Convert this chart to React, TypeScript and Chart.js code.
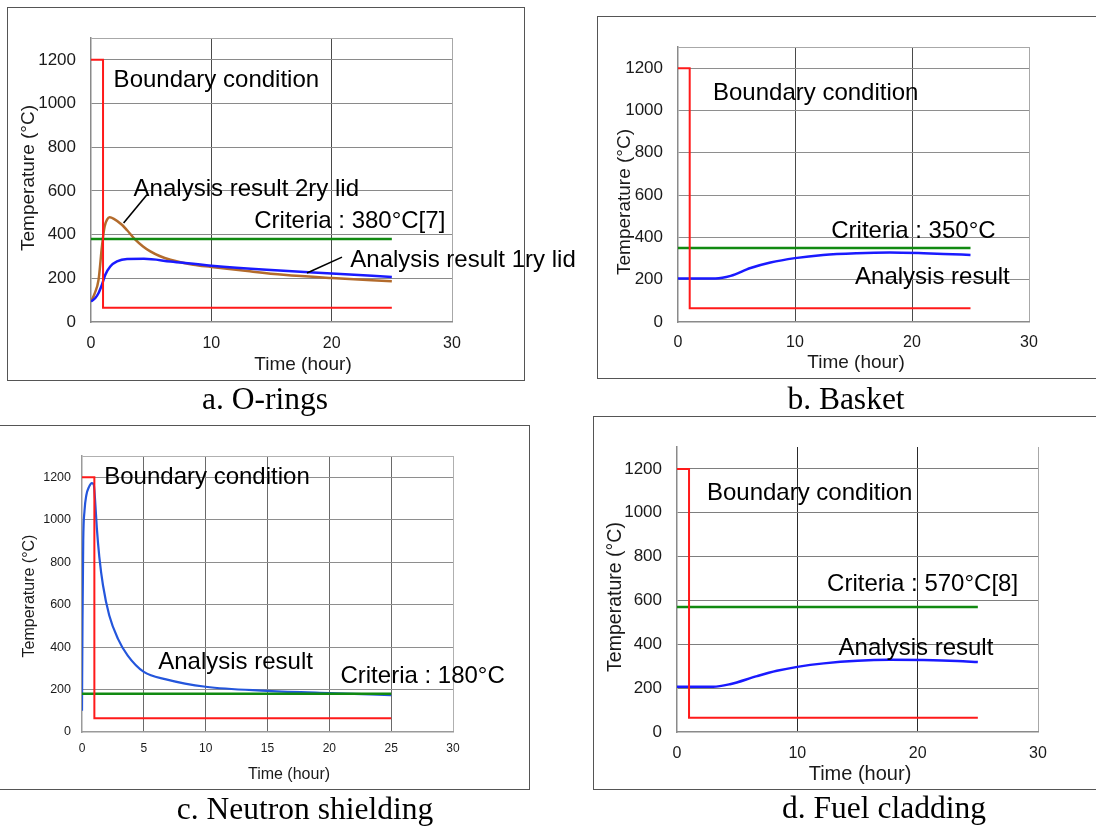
import React, { useEffect, useRef } from "react";
import { Chart, registerables } from "chart.js";

Chart.register(...registerables);

// ---------------- data ----------------
const boundaryTime = [0, 1, 1, 25];
const boundaryTemp = [1200, 1200, 65, 65];
const criteriaTime = [0, 25];

const oringCriteriaTemp = [380, 380];
const oring2ryTime = [0, 0.3, 0.63, 0.91, 1.13, 1.35, 1.55, 1.9, 2.57, 3.0, 3.68, 4.3, 4.93, 5.7, 6.6, 8.5, 10, 13, 16, 20, 25];
const oring2ryTemp = [94, 130, 194, 346, 437, 470, 479, 472, 445, 420, 377, 347, 323, 302, 285, 262, 252, 233, 216, 201, 186];
const oring1ryTime = [0, 0.36, 0.63, 0.91, 1.19, 1.6, 2.16, 3.0, 4.4, 6.6, 10, 14.6, 20, 25];
const oring1ryTemp = [94, 110, 133, 171, 216, 254, 277, 288, 289, 277, 258, 239, 222, 206];

const basketCriteriaTemp = [350, 350];
const basketTime = [0, 3.2, 4.5, 6.2, 7.9, 10, 12.4, 15.3, 18.1, 21, 22.7, 25];
const basketTemp = [206, 206, 218, 255, 281, 302, 317, 325, 328, 325, 322, 317];

const shieldCriteriaTemp = [180, 180];
const shieldTime = [0, 0.04, 0.1, 0.2, 0.35, 0.55, 0.8, 0.95, 1.05, 1.2, 1.4, 1.7, 2.2, 2.9, 3.7, 5, 6.8, 10, 15, 20, 25];
const shieldTemp = [100, 520, 900, 1040, 1115, 1152, 1172, 1165, 1100, 960, 825, 690, 550, 440, 360, 283, 248, 213, 194, 183, 174];

const claddingCriteriaTemp = [570, 570];
const claddingTime = [0, 3.0, 4.4, 6.65, 8.3, 10, 12.2, 15, 17.7, 20.5, 23.3, 25];
const claddingTemp = [206, 206, 218, 255, 279, 297, 313, 325, 329, 328, 324, 319];

const yTickValues = [0, 200, 400, 600, 800, 1000, 1200];
const yMax = 1300;
const xMax = 30;
const xTicksWide = [0, 10, 20, 30];
const xTicksFine = [0, 5, 10, 15, 20, 25, 30];

// ---------------- styling ----------------
const SANS = '"Liberation Sans", Arial, sans-serif';
const RED = "#ff1a1a";
const GREEN = "#118a11";
const BLUE = "#1a1aff";
const BLUE_C = "#2456dc";
const BROWN = "#b36b2c";

type Series = { x: number[]; y: number[]; color: string; width: number; smooth: boolean };
type Note = { text: string; x: number; y: number };
type Leader = { x1: number; y1: number; x2: number; y2: number };
type Title = { text: string; x: number; y: number; size: number };
type Panel = {
  key: string;
  box: { left: number; top: number; width: number; height: number };
  area: { l: number; t: number; r: number; b: number };
  series: Series[];
  xTicks: number[];
  yTickFont: number;
  xTickFont: number;
  yTickPad: number;
  xTickPad: number;
  hGrid: string;
  vGrid: string;
  axisColor: string;
  edgeColor: string;
  showTop: boolean;
  notes: Note[];
  leaders: Leader[];
  xTitle: Title;
  yTitle: Title;
};

const panels: Panel[] = [
  {
    key: "a",
    box: { left: 0, top: 0, width: 595, height: 395 },
    area: { l: 91, t: 38, r: 452, b: 322 },
    series: [
      { x: boundaryTime, y: boundaryTemp, color: RED, width: 2, smooth: false },
      { x: criteriaTime, y: oringCriteriaTemp, color: GREEN, width: 2.5, smooth: false },
      { x: oring1ryTime, y: oring1ryTemp, color: BLUE, width: 2.5, smooth: true },
      { x: oring2ryTime, y: oring2ryTemp, color: BROWN, width: 2.5, smooth: true },
    ],
    xTicks: xTicksWide,
    yTickFont: 17,
    xTickFont: 16,
    yTickPad: 15,
    xTickPad: 12,
    hGrid: "#8a8a8a",
    vGrid: "#4a4a4a",
    axisColor: "#8a8a8a",
    edgeColor: "#a8a8a8",
    showTop: true,
    notes: [
      { text: "Boundary condition", x: 1.88, y: 1075 },
      { text: "Analysis result 2ry lid", x: 3.54, y: 578 },
      { text: "Criteria : 380°C[7]", x: 13.57, y: 430 },
      { text: "Analysis result 1ry lid", x: 21.55, y: 253 },
    ],
    leaders: [
      { x1: 4.65, y1: 583, x2: 2.71, y2: 453 },
      { x1: 20.86, y1: 297, x2: 17.95, y2: 224 },
    ],
    xTitle: { text: "Time (hour)", x: 303, y: 365, size: 19 },
    yTitle: { text: "Temperature (°C)", x: 29, y: 178, size: 19 },
  },
  {
    key: "b",
    box: { left: 596, top: 0, width: 500, height: 395 },
    area: { l: 82, t: 47, r: 433, b: 322 },
    series: [
      { x: boundaryTime, y: boundaryTemp, color: RED, width: 2, smooth: false },
      { x: criteriaTime, y: basketCriteriaTemp, color: GREEN, width: 2.5, smooth: false },
      { x: basketTime, y: basketTemp, color: BLUE, width: 2.5, smooth: true },
    ],
    xTicks: xTicksWide,
    yTickFont: 17,
    xTickFont: 16,
    yTickPad: 15,
    xTickPad: 11,
    hGrid: "#8e8e8e",
    vGrid: "#4a4a4a",
    axisColor: "#8a8a8a",
    edgeColor: "#a8a8a8",
    showTop: true,
    notes: [
      { text: "Boundary condition", x: 2.99, y: 1048 },
      { text: "Criteria : 350°C", x: 13.1, y: 396 },
      { text: "Analysis result", x: 15.13, y: 179 },
    ],
    leaders: [],
    xTitle: { text: "Time (hour)", x: 260, y: 363, size: 19 },
    yTitle: { text: "Temperature (°C)", x: 29, y: 202, size: 19 },
  },
  {
    key: "c",
    box: { left: 0, top: 420, width: 595, height: 400 },
    area: { l: 82, t: 36, r: 453, b: 312 },
    series: [
      { x: boundaryTime, y: boundaryTemp, color: RED, width: 2, smooth: false },
      { x: criteriaTime, y: shieldCriteriaTemp, color: GREEN, width: 2.5, smooth: false },
      { x: shieldTime, y: shieldTemp, color: BLUE_C, width: 2.2, smooth: true },
    ],
    xTicks: xTicksFine,
    yTickFont: 12.5,
    xTickFont: 12,
    yTickPad: 11,
    xTickPad: 9,
    hGrid: "#8e8e8e",
    vGrid: "#6a6a6a",
    axisColor: "#9a9a9a",
    edgeColor: "#b0b0b0",
    showTop: true,
    notes: [
      { text: "Boundary condition", x: 1.8, y: 1168 },
      { text: "Analysis result", x: 6.16, y: 297 },
      { text: "Criteria : 180°C", x: 20.9, y: 230 },
    ],
    leaders: [],
    xTitle: { text: "Time (hour)", x: 289, y: 355, size: 16 },
    yTitle: { text: "Temperature (°C)", x: 30, y: 176, size: 16 },
  },
  {
    key: "d",
    box: { left: 596, top: 412, width: 500, height: 400 },
    area: { l: 81, t: 35, r: 442, b: 320 },
    series: [
      { x: boundaryTime, y: boundaryTemp, color: RED, width: 2, smooth: false },
      { x: criteriaTime, y: claddingCriteriaTemp, color: GREEN, width: 2.5, smooth: false },
      { x: claddingTime, y: claddingTemp, color: BLUE, width: 2.5, smooth: true },
    ],
    xTicks: xTicksWide,
    yTickFont: 17,
    xTickFont: 16,
    yTickPad: 15,
    xTickPad: 12,
    hGrid: "#7e7e7e",
    vGrid: "#2a2a2a",
    axisColor: "#8a8a8a",
    edgeColor: "#a8a8a8",
    showTop: false,
    notes: [
      { text: "Boundary condition", x: 2.49, y: 1059 },
      { text: "Criteria : 570°C[8]", x: 12.47, y: 643 },
      { text: "Analysis result", x: 13.43, y: 351 },
    ],
    leaders: [],
    xTitle: { text: "Time (hour)", x: 264, y: 362, size: 20 },
    yTitle: { text: "Temperature (°C)", x: 20, y: 185, size: 19.5 },
  },
];

const frames = [
  { left: 7, top: 7, width: 518, height: 374 },
  { left: 597, top: 16, width: 520, height: 363 },
  { left: -2, top: 425, width: 532, height: 365 },
  { left: 593, top: 416, width: 520, height: 374 },
];

const captions = [
  { text: "a. O-rings", cx: 265, top: 383 },
  { text: "b. Basket", cx: 846, top: 383 },
  { text: "c. Neutron shielding", cx: 305, top: 793 },
  { text: "d. Fuel cladding", cx: 884, top: 792 },
];

const TRANSPARENT = "rgba(0,0,0,0)";

function PanelChart({ p }: { p: Panel }) {
  const ref = useRef<HTMLCanvasElement | null>(null);
  useEffect(() => {
    if (!ref.current) return;
    const W = p.box.width;
    const H = p.box.height;
    const notesPlugin = {
      id: "notes" + p.key,
      afterDraw(chart: any) {
        const ctx = chart.ctx as CanvasRenderingContext2D;
        const xs = chart.scales.x;
        const ys = chart.scales.y;
        ctx.save();
        ctx.fillStyle = "#000";
        ctx.font = `24px ${SANS}`;
        ctx.textAlign = "left";
        ctx.textBaseline = "alphabetic";
        p.notes.forEach((n) => {
          ctx.fillText(n.text, xs.getPixelForValue(n.x), ys.getPixelForValue(n.y));
        });
        ctx.strokeStyle = "#000";
        ctx.lineWidth = 1.6;
        p.leaders.forEach((l) => {
          ctx.beginPath();
          ctx.moveTo(xs.getPixelForValue(l.x1), ys.getPixelForValue(l.y1));
          ctx.lineTo(xs.getPixelForValue(l.x2), ys.getPixelForValue(l.y2));
          ctx.stroke();
        });
        ctx.fillStyle = "#1a1a1a";
        ctx.textAlign = "center";
        ctx.textBaseline = "middle";
        ctx.font = `${p.xTitle.size}px ${SANS}`;
        ctx.fillText(p.xTitle.text, p.xTitle.x, p.xTitle.y);
        ctx.font = `${p.yTitle.size}px ${SANS}`;
        ctx.translate(p.yTitle.x, p.yTitle.y);
        ctx.rotate(-Math.PI / 2);
        ctx.fillText(p.yTitle.text, 0, 0);
        ctx.restore();
      },
    };
    const chart = new Chart(ref.current, {
      type: "line",
      data: {
        datasets: p.series.map((s) => ({
          data: s.x.map((x, i) => ({ x, y: s.y[i] })),
          borderColor: s.color,
          backgroundColor: s.color,
          borderWidth: s.width,
          pointRadius: 0,
          fill: false,
          tension: s.smooth ? 0.4 : 0,
          cubicInterpolationMode: s.smooth ? "monotone" : "default",
        })),
      },
      options: {
        responsive: false,
        animation: false,
        events: [],
        layout: { padding: { left: 0, top: p.area.t, right: W - p.area.r, bottom: 0 } },
        plugins: { legend: { display: false }, tooltip: { enabled: false }, title: { display: false } },
        scales: {
          x: {
            type: "linear",
            min: 0,
            max: xMax,
            afterBuildTicks: (s: any) => {
              s.ticks = p.xTicks.map((v) => ({ value: v }));
            },
            afterFit: (s: any) => {
              s.height = H - p.area.b;
            },
            ticks: {
              autoSkip: false,
              maxRotation: 0,
              color: "#1a1a1a",
              padding: p.xTickPad,
              font: { family: SANS, size: p.xTickFont },
              callback: (v: any) => String(v),
            },
            grid: {
              drawTicks: false,
              lineWidth: 1,
              color: (c: any) => {
                const v = c.tick ? c.tick.value : -1;
                if (v === 0) return TRANSPARENT;
                if (v === xMax) return p.edgeColor;
                return p.vGrid;
              },
            },
            border: { display: true, color: p.axisColor, width: 1.5 },
          },
          y: {
            type: "linear",
            min: 0,
            max: yMax,
            afterBuildTicks: (s: any) => {
              s.ticks = [...yTickValues, yMax].map((v) => ({ value: v }));
            },
            afterFit: (s: any) => {
              s.width = p.area.l;
            },
            ticks: {
              autoSkip: false,
              color: "#1a1a1a",
              padding: p.yTickPad,
              font: { family: SANS, size: p.yTickFont },
              callback: (v: any) => (yTickValues.includes(Number(v)) ? String(v) : ""),
            },
            grid: {
              drawTicks: false,
              lineWidth: 1,
              color: (c: any) => {
                const v = c.tick ? c.tick.value : -1;
                if (v === 0) return TRANSPARENT;
                if (v === yMax) return p.showTop ? p.edgeColor : TRANSPARENT;
                return p.hGrid;
              },
            },
            border: { display: true, color: p.axisColor, width: 1.5 },
          },
        },
      } as any,
      plugins: [notesPlugin],
    });
    return () => chart.destroy();
  }, [p]);
  return (
    <canvas
      ref={ref}
      width={p.box.width}
      height={p.box.height}
      style={{
        position: "absolute",
        left: p.box.left,
        top: p.box.top,
        width: p.box.width,
        height: p.box.height,
      }}
    />
  );
}

export default function App() {
  return (
    <div
      style={{
        position: "fixed",
        left: 0,
        top: 0,
        width: 1096,
        height: 827,
        overflow: "hidden",
        background: "#fff",
      }}
    >
      {frames.map((f, i) => (
        <div
          key={"f" + i}
          style={{
            position: "absolute",
            left: f.left,
            top: f.top,
            width: f.width,
            height: f.height,
            boxSizing: "border-box",
            border: "1px solid #555",
          }}
        />
      ))}
      {panels.map((p) => (
        <PanelChart key={p.key} p={p} />
      ))}
      {captions.map((c, i) => (
        <div
          key={"c" + i}
          style={{
            position: "absolute",
            left: c.cx - 200,
            top: c.top,
            width: 400,
            textAlign: "center",
            fontFamily: '"Liberation Serif", "Times New Roman", serif',
            fontSize: 31.5,
            lineHeight: "31px",
            color: "#000",
            whiteSpace: "nowrap",
          }}
        >
          {c.text}
        </div>
      ))}
    </div>
  );
}
